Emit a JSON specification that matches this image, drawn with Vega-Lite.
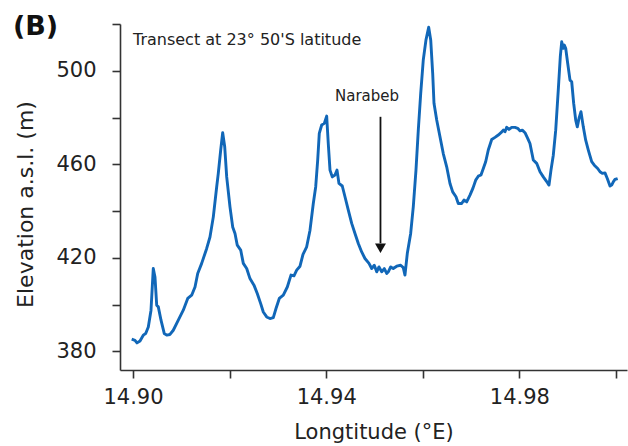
{
  "$schema": "https://vega.github.io/schema/vega-lite/v6.json",
  "autosize": "none",
  "width": 507,
  "height": 346,
  "padding": {"left": 120, "top": 24, "right": 1, "bottom": 76},
  "background": "white",
  "config": {
    "view": {"stroke": null},
    "font": "DejaVu Sans",
    "axis": {
      "grid": false,
      "domainColor": "#333333",
      "domainWidth": 1.6,
      "tickColor": "#333333",
      "tickWidth": 1.6,
      "tickSize": 8,
      "labelFont": "DejaVu Sans",
      "labelFontSize": 21,
      "labelColor": "#222222",
      "titleFont": "DejaVu Sans",
      "titleFontSize": 21,
      "titleFontWeight": "normal",
      "titleColor": "#222222"
    }
  },
  "title": {
    "text": "(B)",
    "anchor": "start",
    "frame": "bounds",
    "font": "DejaVu Sans",
    "fontSize": 27,
    "fontWeight": "bold",
    "color": "#111111",
    "baseline": "alphabetic",
    "offset": -39,
    "dx": -2
  },
  "datasets": {
    "profile": [
      {"lon": 14.89973, "elev": 385.2}, {"lon": 14.90041, "elev": 384.7}, {"lon": 14.90083, "elev": 383.6},
      {"lon": 14.90145, "elev": 384.4}, {"lon": 14.90213, "elev": 386.9}, {"lon": 14.90263, "elev": 387.6},
      {"lon": 14.90317, "elev": 390.4}, {"lon": 14.90373, "elev": 397.6}, {"lon": 14.9042, "elev": 415.4},
      {"lon": 14.90455, "elev": 411.8}, {"lon": 14.90491, "elev": 399.7}, {"lon": 14.90524, "elev": 399.0},
      {"lon": 14.9058, "elev": 393.3}, {"lon": 14.90648, "elev": 387.6}, {"lon": 14.90698, "elev": 386.9},
      {"lon": 14.90766, "elev": 387.2}, {"lon": 14.90834, "elev": 389.0}, {"lon": 14.90938, "elev": 393.3},
      {"lon": 14.91041, "elev": 397.6}, {"lon": 14.91133, "elev": 402.6}, {"lon": 14.91215, "elev": 404.0},
      {"lon": 14.91284, "elev": 407.5}, {"lon": 14.9134, "elev": 413.3}, {"lon": 14.91422, "elev": 417.6},
      {"lon": 14.91526, "elev": 424.0}, {"lon": 14.91594, "elev": 428.9}, {"lon": 14.91663, "elev": 437.5},
      {"lon": 14.91733, "elev": 450.4}, {"lon": 14.91766, "elev": 456.1}, {"lon": 14.91816, "elev": 466.1},
      {"lon": 14.91857, "elev": 473.5}, {"lon": 14.91899, "elev": 467.5}, {"lon": 14.9194, "elev": 454.6},
      {"lon": 14.92008, "elev": 441.8}, {"lon": 14.92064, "elev": 433.2}, {"lon": 14.92112, "elev": 430.4},
      {"lon": 14.92159, "elev": 425.4}, {"lon": 14.9223, "elev": 423.3}, {"lon": 14.92284, "elev": 417.6},
      {"lon": 14.92354, "elev": 415.4}, {"lon": 14.92422, "elev": 411.1}, {"lon": 14.92505, "elev": 408.3},
      {"lon": 14.92573, "elev": 404.7}, {"lon": 14.92644, "elev": 400.4}, {"lon": 14.92698, "elev": 396.8},
      {"lon": 14.92768, "elev": 394.7}, {"lon": 14.92836, "elev": 394.0}, {"lon": 14.92905, "elev": 394.4},
      {"lon": 14.92961, "elev": 398.3}, {"lon": 14.93029, "elev": 402.6}, {"lon": 14.93112, "elev": 404.0},
      {"lon": 14.93195, "elev": 407.5}, {"lon": 14.93271, "elev": 412.6}, {"lon": 14.93333, "elev": 412.3},
      {"lon": 14.93389, "elev": 414.7}, {"lon": 14.93458, "elev": 416.4}, {"lon": 14.9352, "elev": 421.5},
      {"lon": 14.93596, "elev": 424.7}, {"lon": 14.93665, "elev": 431.8}, {"lon": 14.93733, "elev": 443.2},
      {"lon": 14.93783, "elev": 450.4}, {"lon": 14.93824, "elev": 461.8}, {"lon": 14.93857, "elev": 473.2},
      {"lon": 14.93907, "elev": 476.8}, {"lon": 14.93961, "elev": 477.5}, {"lon": 14.9401, "elev": 480.6},
      {"lon": 14.94043, "elev": 468.9}, {"lon": 14.94079, "elev": 457.5}, {"lon": 14.94126, "elev": 454.6},
      {"lon": 14.94182, "elev": 455.4}, {"lon": 14.94224, "elev": 457.5}, {"lon": 14.94265, "elev": 451.8},
      {"lon": 14.94333, "elev": 450.7}, {"lon": 14.94389, "elev": 446.1}, {"lon": 14.94458, "elev": 440.4},
      {"lon": 14.94528, "elev": 434.7}, {"lon": 14.94596, "elev": 430.4}, {"lon": 14.94665, "elev": 426.1},
      {"lon": 14.94735, "elev": 422.5}, {"lon": 14.94803, "elev": 419.7}, {"lon": 14.94886, "elev": 417.6},
      {"lon": 14.94942, "elev": 415.4}, {"lon": 14.94996, "elev": 416.8}, {"lon": 14.95046, "elev": 414.0},
      {"lon": 14.95093, "elev": 416.1}, {"lon": 14.95149, "elev": 414.0}, {"lon": 14.95203, "elev": 415.4},
      {"lon": 14.95253, "elev": 413.3}, {"lon": 14.95286, "elev": 414.0}, {"lon": 14.95335, "elev": 416.1},
      {"lon": 14.95389, "elev": 415.4}, {"lon": 14.9546, "elev": 416.4}, {"lon": 14.95542, "elev": 416.8},
      {"lon": 14.95596, "elev": 415.8}, {"lon": 14.95631, "elev": 412.6}, {"lon": 14.95679, "elev": 421.8},
      {"lon": 14.95749, "elev": 430.4}, {"lon": 14.95803, "elev": 441.8}, {"lon": 14.95859, "elev": 457.5},
      {"lon": 14.95907, "elev": 474.6}, {"lon": 14.95957, "elev": 490.3}, {"lon": 14.9601, "elev": 504.6},
      {"lon": 14.96066, "elev": 513.2}, {"lon": 14.96122, "elev": 518.6}, {"lon": 14.96164, "elev": 513.2},
      {"lon": 14.96205, "elev": 498.9}, {"lon": 14.96232, "elev": 486.1}, {"lon": 14.96288, "elev": 478.9},
      {"lon": 14.96356, "elev": 471.8}, {"lon": 14.96424, "elev": 464.6}, {"lon": 14.96495, "elev": 458.9},
      {"lon": 14.96563, "elev": 451.8}, {"lon": 14.96619, "elev": 448.2}, {"lon": 14.96687, "elev": 446.1},
      {"lon": 14.96735, "elev": 443.2}, {"lon": 14.96805, "elev": 443.2}, {"lon": 14.96853, "elev": 444.7},
      {"lon": 14.96909, "elev": 443.9}, {"lon": 14.96977, "elev": 446.8}, {"lon": 14.97039, "elev": 449.8},
      {"lon": 14.97095, "elev": 453.2}, {"lon": 14.97149, "elev": 454.9}, {"lon": 14.97205, "elev": 455.4},
      {"lon": 14.97253, "elev": 458.2}, {"lon": 14.97302, "elev": 461.1}, {"lon": 14.97356, "elev": 466.1},
      {"lon": 14.97427, "elev": 470.6}, {"lon": 14.97495, "elev": 471.5}, {"lon": 14.97563, "elev": 472.5},
      {"lon": 14.97619, "elev": 473.5}, {"lon": 14.97667, "elev": 474.6}, {"lon": 14.97702, "elev": 473.9},
      {"lon": 14.97737, "elev": 475.8}, {"lon": 14.97785, "elev": 474.9}, {"lon": 14.97841, "elev": 475.8},
      {"lon": 14.97909, "elev": 475.8}, {"lon": 14.97965, "elev": 475.4}, {"lon": 14.98012, "elev": 474.3},
      {"lon": 14.9806, "elev": 474.6}, {"lon": 14.98116, "elev": 473.5}, {"lon": 14.98172, "elev": 471.1},
      {"lon": 14.98219, "elev": 468.9}, {"lon": 14.98288, "elev": 461.8}, {"lon": 14.98358, "elev": 460.4},
      {"lon": 14.98427, "elev": 456.8}, {"lon": 14.98495, "elev": 454.6}, {"lon": 14.98565, "elev": 452.6},
      {"lon": 14.98613, "elev": 451.1}, {"lon": 14.98654, "elev": 457.5}, {"lon": 14.98702, "elev": 463.9},
      {"lon": 14.98752, "elev": 474.6}, {"lon": 14.98805, "elev": 491.7}, {"lon": 14.98847, "elev": 506.0},
      {"lon": 14.98876, "elev": 512.4}, {"lon": 14.98909, "elev": 509.6}, {"lon": 14.9893, "elev": 511.0},
      {"lon": 14.98959, "elev": 509.6}, {"lon": 14.99, "elev": 503.2}, {"lon": 14.99048, "elev": 496.0},
      {"lon": 14.99083, "elev": 495.3}, {"lon": 14.99124, "elev": 486.1}, {"lon": 14.99166, "elev": 478.9},
      {"lon": 14.99199, "elev": 476.0}, {"lon": 14.99234, "elev": 479.6}, {"lon": 14.99275, "elev": 482.5},
      {"lon": 14.99323, "elev": 476.0}, {"lon": 14.99373, "elev": 470.3}, {"lon": 14.99427, "elev": 466.1},
      {"lon": 14.99497, "elev": 461.1}, {"lon": 14.99551, "elev": 459.6}, {"lon": 14.99621, "elev": 458.2},
      {"lon": 14.99669, "elev": 456.8}, {"lon": 14.99717, "elev": 456.1}, {"lon": 14.99772, "elev": 456.3},
      {"lon": 14.9982, "elev": 453.9}, {"lon": 14.99876, "elev": 450.7}, {"lon": 14.99911, "elev": 451.1},
      {"lon": 14.99944, "elev": 452.5}, {"lon": 14.99979, "elev": 453.5}, {"lon": 15.00035, "elev": 453.9}
    ],
    "transect": [
      {"lon": 14.9, "elev": 511.0, "label": "Transect at 23° 50'S latitude"}
    ],
    "site": [
      {"lon": 14.94845, "elev": 487.2, "label": "Narabeb"}
    ],
    "arrow": [
      {"lon": 14.95124, "top": 480.3, "bottom": 426.2, "head": 424.1}
    ]
  },
  "encoding": {
    "x": {
      "field": "lon",
      "type": "quantitative",
      "scale": {"domain": [14.89731, 15.00228], "nice": false, "zero": false},
      "axis": {
        "title": "Longtitude (°E)",
        "values": [14.9, 14.92, 14.94, 14.96, 14.98, 15.0],
        "labelExpr": "round(datum.value*100) % 4 == 2 ? format(datum.value, '.2f') : ''",
        "labelPadding": 8,
        "titlePadding": 14
      }
    }
  },
  "layer": [
    {
      "data": {"name": "profile"},
      "mark": {"type": "line", "color": "#1167b8", "strokeWidth": 2.9, "strokeJoin": "round"},
      "encoding": {
        "y": {
          "field": "elev",
          "type": "quantitative",
          "scale": {"domain": [372, 520], "nice": false, "zero": false},
          "axis": {
            "title": "Elevation a.s.l. (m)",
            "titleFontSize": 22,
            "titleY": 180,
            "values": [380, 400, 420, 440, 460, 480, 500, 520],
            "labelExpr": "datum.value % 40 == 20 ? datum.label : ''",
            "labelPadding": 16,
            "titlePadding": 18
          }
        }
      }
    },
    {
      "data": {"name": "transect"},
      "mark": {"type": "text", "baseline": "alphabetic", "align": "left", "color": "#222222", "font": "DejaVu Sans", "fontSize": 16},
      "encoding": {
        "y": {"field": "elev", "type": "quantitative"},
        "text": {"field": "label"}
      }
    },
    {
      "data": {"name": "site"},
      "mark": {"type": "text", "baseline": "alphabetic", "align": "center", "color": "#222222", "font": "DejaVu Sans", "fontSize": 15},
      "encoding": {
        "y": {"field": "elev", "type": "quantitative"},
        "text": {"field": "label"}
      }
    },
    {
      "data": {"name": "arrow"},
      "mark": {"type": "rule", "color": "#111111", "strokeWidth": 1.8},
      "encoding": {
        "y": {"field": "top", "type": "quantitative"},
        "y2": {"field": "bottom"}
      }
    },
    {
      "data": {"name": "arrow"},
      "mark": {"type": "point", "shape": "triangle-down", "filled": true, "color": "#111111", "size": 120, "opacity": 1},
      "encoding": {
        "y": {"field": "head", "type": "quantitative"}
      }
    }
  ]
}
